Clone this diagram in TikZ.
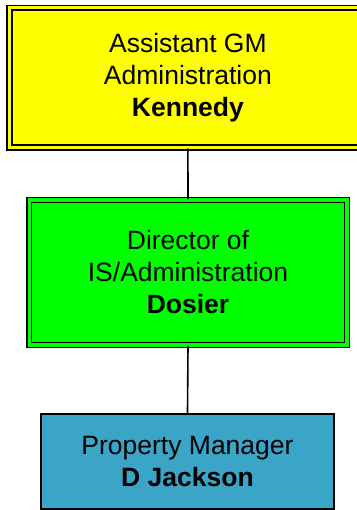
\documentclass[tikz,border=0pt]{standalone}
\usepackage{fontspec}
\setmainfont{Liberation Sans}
\definecolor{boxyellow}{RGB}{255,255,0}
\definecolor{boxgreen}{RGB}{0,255,0}
\definecolor{boxblue}{RGB}{59,165,200}
\begin{document}
\begin{tikzpicture}[x=1pt,y=-1pt,
  orgbox/.style={draw=black, line width=1.7pt, inner sep=0pt, align=center,
    font=\fontsize{26.5}{32}\selectfont},
  doublebox/.style={orgbox, double distance=3.2pt},
  link/.style={draw=black, line width=1.6pt}]
\useasboundingbox (0,0) rectangle (356,510);
\node[doublebox, double=boxyellow, fill=boxyellow, minimum width=357.4pt, minimum height=139.7pt]
  (agm) at (187.9,77.75) {Assistant GM\\Administration\\\textbf{Kennedy}};
\node[doublebox, double=boxgreen, fill=boxgreen, minimum width=317.8pt, minimum height=144.8pt]
  (dir) at (188,272.5) {Director of\\IS/Administration\\\textbf{Dosier}};
\node[orgbox, fill=boxblue, minimum width=293pt, minimum height=95pt]
  (pm) at (187.5,461.5) {Property Manager\\\textbf{D Jackson}};
\draw[link] (agm.south) -- (dir.north);
\draw[link] (dir.south) -- (pm.north);
\end{tikzpicture}
\end{document}
